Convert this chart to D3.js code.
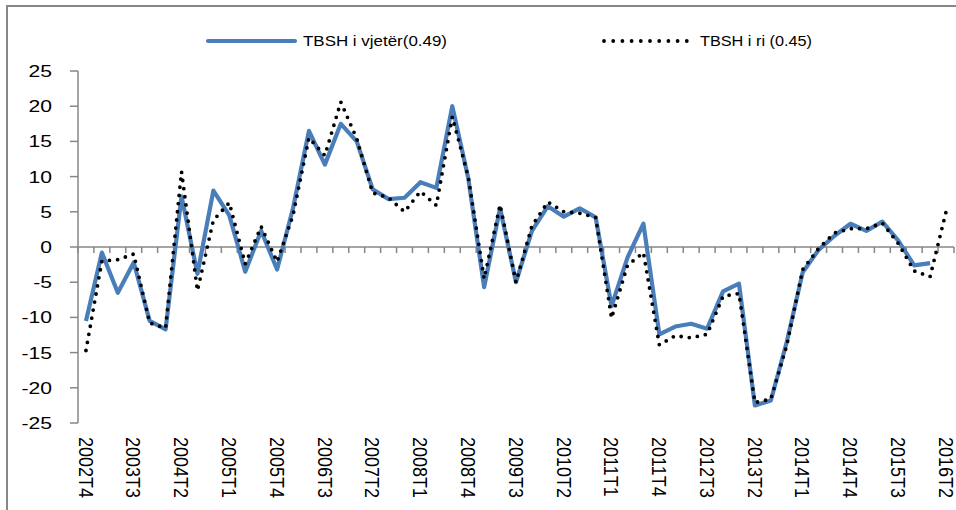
<!DOCTYPE html>
<html><head><meta charset="utf-8">
<script src="https://cdn.jsdelivr.net/npm/d3@7/dist/d3.min.js"></script>
<style>body{margin:0;background:#fff}svg{display:block}</style>
</head><body>
<svg id="c" width="956" height="510"></svg>
<script>
const quarters = ["2002T4","2003T1","2003T2","2003T3","2003T4","2004T1","2004T2","2004T3","2004T4",
"2005T1","2005T2","2005T3","2005T4","2006T1","2006T2","2006T3","2006T4","2007T1","2007T2","2007T3","2007T4",
"2008T1","2008T2","2008T3","2008T4","2009T1","2009T2","2009T3","2009T4","2010T1","2010T2","2010T3","2010T4",
"2011T1","2011T2","2011T3","2011T4","2012T1","2012T2","2012T3","2012T4","2013T1","2013T2","2013T3","2013T4",
"2014T1","2014T2","2014T3","2014T4","2015T1","2015T2","2015T3","2015T4","2016T1","2016T2"];
const tickLabels = ["2002T4","2003T3","2004T2","2005T1","2005T4","2006T3","2007T2","2008T1","2008T4",
"2009T3","2010T2","2011T1","2011T4","2012T3","2013T2","2014T1","2014T4","2015T3","2016T2"];
const yTicks = [-25,-20,-15,-10,-5,0,5,10,15,20,25];
const seriesNames = ["TBSH i vjetër(0.49)", "TBSH i ri (0.45)"];
const tbshOld = [-10.5,-0.8,-6.5,-2.2,-10.5,-11.7,7.2,-3.8,8.0,4.5,-3.5,2.3,-3.2,5.5,16.5,11.7,17.5,15.0,
8.2,6.8,7.0,9.2,8.4,20.0,9.8,-5.7,5.5,-5.0,2.3,5.8,4.3,5.5,4.2,-8.4,-1.5,3.3,-12.4,-11.3,-10.9,-11.6,
-6.3,-5.2,-22.5,-21.8,-13.5,-3.6,-0.4,1.6,3.3,2.3,3.6,0.9,-2.6,-2.3,null];
const tbshNew = [-14.7,-2.0,-1.8,-1.0,-10.8,-11.5,10.7,-6.2,3.8,6.3,-2.4,2.9,-2.1,4.5,15.5,13.0,20.6,15.4,
7.7,7.0,5.0,7.9,5.9,18.5,10.0,-4.5,6.0,-5.0,3.0,6.4,5.0,4.8,4.2,-10.1,-2.6,-0.8,-13.9,-12.6,-12.9,-12.4,
-7.0,-6.6,-22.1,-21.6,-14.0,-3.2,-0.2,2.0,2.6,2.6,3.4,0.5,-3.4,-4.2,5.0];

const svg = d3.select("#c");
const W = 956, H = 510;
const x = d3.scaleBand().domain(quarters).range([78, 954]).paddingInner(0).paddingOuter(0);
const cx = q => x(q) + x.bandwidth()/2;
const y = d3.scaleLinear().domain([-25, 25]).range([423, 71]);
const gray = "#878787";
const SX = 1.28;

// frame
svg.append("rect").attr("x", 7).attr("y", 6).attr("width", W).attr("height", H)
  .attr("fill", "none").attr("stroke", gray).attr("stroke-width", 2);

// y axis
svg.append("line").attr("x1", 78).attr("x2", 78).attr("y1", y(25)).attr("y2", y(-25))
  .attr("stroke", gray).attr("stroke-width", 1.5);
svg.selectAll(".yt").data(yTicks).enter().append("line")
  .attr("x1", 70).attr("x2", 78).attr("y1", d => y(d)).attr("y2", d => y(d))
  .attr("stroke", gray).attr("stroke-width", 1.5);
svg.selectAll(".yl").data(yTicks).enter().append("text")
  .attr("transform", d => `translate(52,${y(d)}) scale(${SX},1)`)
  .attr("text-anchor", "end").attr("dy", "0.36em")
  .attr("font-family", "Liberation Sans, Arial, sans-serif").attr("font-size", 16.5)
  .attr("fill", "#000").text(d => d);

// x axis at zero
const bounds = quarters.map(q => x(q)).concat([x.range()[1]]);
svg.append("line").attr("x1", 78).attr("x2", x.range()[1]).attr("y1", y(0)).attr("y2", y(0))
  .attr("stroke", gray).attr("stroke-width", 1.5);
svg.selectAll(".xt").data(bounds).enter().append("line")
  .attr("x1", d => d).attr("x2", d => d).attr("y1", y(0)).attr("y2", y(0) + 6)
  .attr("stroke", gray).attr("stroke-width", 1.5);
svg.selectAll(".xl").data(tickLabels).enter().append("text")
  .attr("transform", d => `translate(${cx(d)},437) scale(1.12,1) rotate(90)`)
  .attr("text-anchor", "start").attr("dy", "0.36em")
  .attr("font-family", "Liberation Sans, Arial, sans-serif").attr("font-size", 18)
  .attr("fill", "#000").text(d => d);

// lines
const line = d3.line().defined(d => d.v != null).x(d => cx(d.q)).y(d => y(d.v));
const oldData = quarters.map((q, i) => ({q, v: tbshOld[i]}));
const newData = quarters.map((q, i) => ({q, v: tbshNew[i]}));
svg.append("path").datum(oldData).attr("d", line).attr("fill", "none")
  .attr("stroke", "#4a7ebb").attr("stroke-width", 4.2).attr("stroke-linejoin", "round");
svg.append("path").datum(newData).attr("d", line).attr("fill", "none")
  .attr("stroke", "#000").attr("stroke-width", 3.8).attr("stroke-linecap", "round")
  .attr("stroke-dasharray", "0 8.2");

// legend
svg.append("line").attr("x1", 208).attr("x2", 295).attr("y1", 41).attr("y2", 41)
  .attr("stroke", "#4a7ebb").attr("stroke-width", 4.2).attr("stroke-linecap", "round");
svg.append("text").attr("x", 303).attr("y", 41).attr("dy", "0.36em")
  .attr("font-family", "Liberation Sans, Arial, sans-serif").attr("font-size", 15)
  .attr("textLength", 144).attr("lengthAdjust", "spacingAndGlyphs").text(seriesNames[0]);
svg.append("line").attr("x1", 604).attr("x2", 687).attr("y1", 41).attr("y2", 41)
  .attr("stroke", "#000").attr("stroke-width", 3.8).attr("stroke-linecap", "round")
  .attr("stroke-dasharray", "0 9.2");
svg.append("text").attr("x", 700).attr("y", 41).attr("dy", "0.36em")
  .attr("font-family", "Liberation Sans, Arial, sans-serif").attr("font-size", 15)
  .attr("textLength", 112).attr("lengthAdjust", "spacingAndGlyphs").text(seriesNames[1]);
</script>
</body></html>
